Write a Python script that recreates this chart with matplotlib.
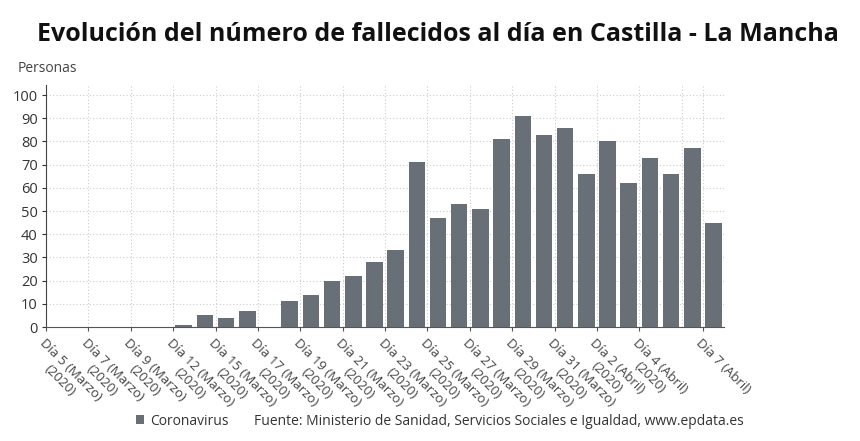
import matplotlib.pyplot as plt

# daily deaths, Castilla - La Mancha
dias = ['Día 5 (Marzo)\n(2020)', 'Día 6 (Marzo)\n(2020)', 'Día 7 (Marzo)\n(2020)',
        'Día 8 (Marzo)\n(2020)', 'Día 9 (Marzo)\n(2020)', 'Día 10 (Marzo)\n(2020)',
        'Día 12 (Marzo)\n(2020)', 'Día 13 (Marzo)\n(2020)', 'Día 15 (Marzo)\n(2020)',
        'Día 16 (Marzo)\n(2020)', 'Día 17 (Marzo)\n(2020)', 'Día 18 (Marzo)\n(2020)',
        'Día 19 (Marzo)\n(2020)', 'Día 20 (Marzo)\n(2020)', 'Día 21 (Marzo)\n(2020)',
        'Día 22 (Marzo)\n(2020)', 'Día 23 (Marzo)\n(2020)', 'Día 24 (Marzo)\n(2020)',
        'Día 25 (Marzo)\n(2020)', 'Día 26 (Marzo)\n(2020)', 'Día 27 (Marzo)\n(2020)',
        'Día 28 (Marzo)\n(2020)', 'Día 29 (Marzo)\n(2020)', 'Día 30 (Marzo)\n(2020)',
        'Día 31 (Marzo)\n(2020)', 'Día 1 (Abril)\n(2020)', 'Día 2 (Abril)\n(2020)',
        'Día 3 (Abril)\n(2020)', 'Día 4 (Abril)\n(2020)', 'Día 5 (Abril)\n(2020)',
        'Día 6 (Abril)\n(2020)', 'Día 7 (Abril)']
fallecidos = [0, 0, 0, 0, 0, 0, 1, 5, 4, 7, 0, 11, 14, 20, 22, 28,
              33, 71, 47, 53, 51, 81, 91, 83, 86, 66, 80, 62, 73, 66, 77, 45]
tick_idx = list(range(0, 30, 2)) + [31]

plt.rcParams['font.family'] = ['Open Sans', 'DejaVu Sans']

fig = plt.figure(figsize=(8.6, 4.41), dpi=100)
ax = fig.add_axes([0.0535, 0.2585, 0.7885, 0.5485])

x = [i + 0.5 for i in range(len(fallecidos))]
bars = ax.bar(x, fallecidos, width=0.78, color='#686f76', zorder=3, label='Coronavirus')

ax.set_xlim(0, len(fallecidos))
ax.set_ylim(0, 104.3)
ax.set_yticks(range(0, 101, 10))
ax.tick_params(axis='y', labelsize=10.5, colors='#333333', length=3, pad=3)

ax.set_xticks(tick_idx)
ax.set_xticklabels([dias[i] for i in tick_idx], rotation=-45, ha='left', va='top',
                   rotation_mode='anchor', multialignment='center', fontsize=9.5, color='#444444')
ax.tick_params(axis='x', length=3, pad=4, color='#555555')

# dotted grid
for v in range(10, 101, 10):
    ax.axhline(v, color='#cccccc', lw=0.8, ls=(0, (1, 2)), zorder=1)
for g in list(range(2, 33, 2)) + [31]:
    ax.axvline(g, color='#cccccc', lw=0.8, ls=(0, (1, 2)), zorder=1)

for s in ['top', 'right']:
    ax.spines[s].set_visible(False)
ax.spines['left'].set_color('#444444')
ax.spines['bottom'].set_color('#555555')
ax.spines['bottom'].set_linestyle((0, (2, 1)))

fig.text(0.509, 0.922, 'Evolución del número de fallecidos al día en Castilla - La Mancha',
         ha='center', va='center', fontsize=18, fontweight='bold', color='#111111')
fig.text(0.02, 0.845, 'Personas', fontsize=10, color='#444444', va='center')

fig.legend(handles=[bars], loc='center left', bbox_to_anchor=(0.150, 0.045), frameon=False,
           fontsize=10, handlelength=0.6, handleheight=0.6, handletextpad=0.4,
           labelcolor='#333333', borderpad=0)
fig.text(0.295, 0.045, 'Fuente: Ministerio de Sanidad, Servicios Sociales e Igualdad, www.epdata.es',
         fontsize=10, color='#333333', va='center')

fig.savefig('out.png', dpi=100)
